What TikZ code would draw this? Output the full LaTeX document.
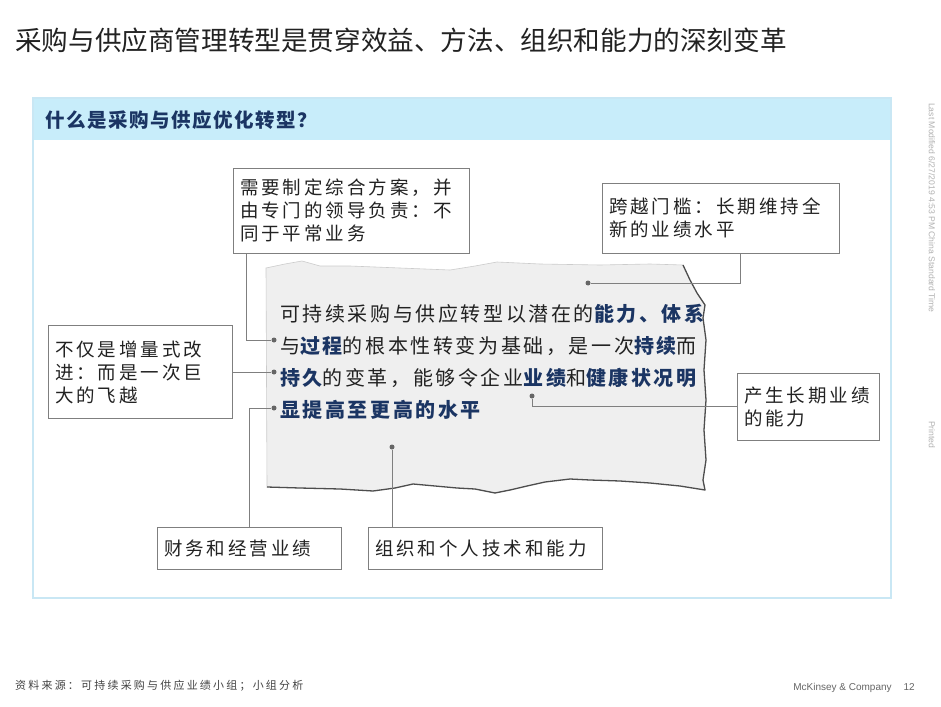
\documentclass[tikz,border=0pt]{standalone}
\usepackage{fontspec}
\setmainfont{Noto Sans CJK SC}
\newfontfamily\titlefont{Noto Sans CJK SC}
\newfontfamily\headfont[LetterSpace=8]{Noto Sans CJK SC}
\newfontfamily\notefont[LetterSpace=16]{Noto Sans CJK SC}
\newfontfamily\bodyfont[LetterSpace=13]{Noto Sans CJK SC}
\newfontfamily\footfont[LetterSpace=20]{Noto Sans CJK SC}
\newfontfamily\arialfont{Liberation Sans}
\usetikzlibrary{positioning}
\definecolor{ink}{HTML}{222222}
\definecolor{navy}{HTML}{1B3563}
\definecolor{frame}{HTML}{C9E7F4}
\definecolor{band}{HTML}{C8EDFA}
\definecolor{linec}{HTML}{7F7F7F}
\definecolor{paper}{HTML}{EFEFEF}
\definecolor{tear}{HTML}{4D4D4D}
\tikzset{
  note/.style={draw=linec,fill=white,line width=0.8pt,inner xsep=7pt,inner ysep=0pt,
    align=left,text=ink,font=\notefont\fontsize{18.5}{23}\selectfont},
  dot/.style={circle,fill=linec!80!black,inner sep=0pt,minimum size=5pt},
  conn/.style={linec,line width=0.8pt},
  stamp/.style={rotate=-90,anchor=west,inner sep=0pt,text=gray!60,font=\arialfont\fontsize{8.6}{10}\selectfont},
}
\newcommand{\hl}[1]{{\bfseries\color{navy}#1}}

\begin{document}
\begin{tikzpicture}[x=1pt,y=-1pt]
  \useasboundingbox[fill=white] (0,0) rectangle (941,706);
  % title
  \node[anchor=west,inner sep=0pt,text=ink,font=\titlefont\fontsize{26.6}{30}\selectfont] (title) at (15,40)
    {采购与供应商管理转型是贯穿效益、方法、组织和能力的深刻变革};
  % panel and header band
  \fill[band] (33,98) rectangle (891,140);
  \draw[frame,line width=2pt] (33,98) rectangle (891,598);
  \node[anchor=west,inner sep=0pt,text=navy,font=\headfont\bfseries\fontsize{19.5}{22}\selectfont] (ask) at (45,120)
    {什么是采购与供应优化转型？};
  % torn paper
  \fill[paper] (266,268) -- (285,264) -- (302,261) -- (320,266) -- (350,266) -- (400,268)
    -- (450,270) -- (475,266) -- (497,262) -- (540,264) -- (600,265) -- (650,264) -- (683,265)
    -- (690,280) -- (697,293) -- (705,305) -- (703,318) -- (706,340) -- (704,370) -- (706,400)
    -- (704,430) -- (706,460) -- (703,480) -- (705,490)
    -- (680,486) -- (650,483) -- (620,481) -- (590,480) -- (570,479) -- (545,482) -- (527,486)
    -- (510,490) -- (495,493) -- (475,489) -- (457,488) -- (435,486) -- (413,484) -- (395,488)
    -- (373,491) -- (340,489) -- (300,488) -- (267,487) -- cycle;
  \draw[gray!40,line width=0.6pt] (267,487) -- (266,268) -- (285,264) -- (302,261) -- (320,266)
    -- (350,266) -- (400,268) -- (450,270) -- (475,266) -- (497,262) -- (540,264) -- (600,265)
    -- (650,264) -- (683,265);
  \draw[tear,line width=1.3pt,line join=round] (683,265) -- (690,280) -- (697,293) -- (705,305)
    -- (703,318) -- (706,340) -- (704,370) -- (706,400) -- (704,430) -- (706,460) -- (703,480)
    -- (705,490) -- (680,486) -- (650,483) -- (620,481) -- (590,480) -- (570,479) -- (545,482)
    -- (527,486) -- (510,490) -- (495,493) -- (475,489) -- (457,488) -- (435,486) -- (413,484)
    -- (395,488) -- (373,491) -- (340,489) -- (300,488) -- (267,487);
  \node[anchor=north west,inner sep=0pt,align=left,text=ink,font=\bodyfont\fontsize{20}{32}\selectfont] (core) at (280,304)
    {可持续采购与供应转型以潜在的\hl{能力、体系}\\
     与\hl{过程}的根本性转变为基础，是一次\hl{持续}而\\
     \hl{持久}的变革，能够令企业\hl{业绩}和\hl{健康状况明}\\
     \hl{显提高至更高的水平}};
  % callouts
  \node[note,text width=222pt,minimum height=85pt] (need) at (351,210.5)
    {需要制定综合方案，并\\由专门的领导负责：不\\同于平常业务};
  \node[note,text width=223pt,minimum height=70pt] (gate) at (720.5,218)
    {跨越门槛：长期维持全\\新的业绩水平};
  \node[note,text width=170pt,minimum height=93pt] (leap) at (140,372)
    {不仅是增量式改\\进：而是一次巨\\大的飞越};
  \node[note,text width=128pt,minimum height=67pt] (ability) at (808,406.5)
    {产生长期业绩\\的能力};
  \node[note,text width=170pt,minimum height=42pt] (finance) at (249,548) {财务和经营业绩};
  \node[note,text width=220pt,minimum height=42pt] (org) at (485,548) {组织和个人技术和能力};
  % anchor dots on the paper
  \node[dot] (d1) at (274,340) {};
  \node[dot] (d2) at (274,372) {};
  \node[dot] (d3) at (274,408) {};
  \node[dot] (d4) at (392,447) {};
  \node[dot] (d5) at (588,283) {};
  \node[dot] (d6) at (532,396) {};
  \draw[conn] ([xshift=14pt]need.south west) |- (d1);
  \draw[conn] (leap.east) -- (d2);
  \draw[conn] (finance.north) |- (d3);
  \draw[conn] (org.north -| d4) -- (d4);
  \draw[conn] ([xshift=20pt]gate.south) |- (d5);
  \draw[conn] (ability.west) -| (d6);
  % margin and footer
  \node[stamp] (modified) at (932,103) {Last Modified 6/27/2019 4:53 PM China Standard Time};
  \node[stamp] (printed) at (932,421) {Printed};
  \node[anchor=west,inner sep=0pt,text=ink!85,font=\footfont\fontsize{11}{13}\selectfont] (source) at (15,686)
    {资料来源：可持续采购与供应业绩小组；小组分析};
  \node[anchor=east,inner sep=0pt,text=gray!80!black,font=\arialfont\fontsize{10}{12}\selectfont] (firm) at (915,688)
    {McKinsey \& Company\hspace{12pt}12};
\end{tikzpicture}
\end{document}
